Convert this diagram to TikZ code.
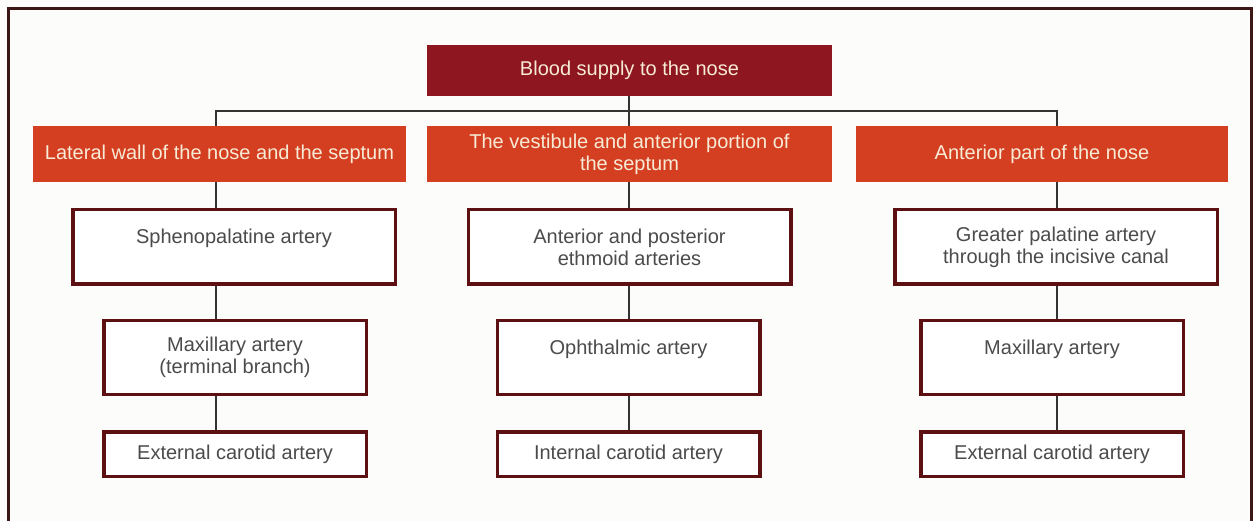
\documentclass[tikz,border=0pt]{standalone}
\usepackage{fontspec}
\setmainfont{Liberation Sans}
\usepackage{color}
\newcommand{\boxrule}{3.5pt}
\newcommand{\linkrule}{2pt}
\definecolor{framebrown}{HTML}{3D1616}
\definecolor{titlered}{HTML}{8E1620}
\definecolor{partred}{HTML}{D43F22}
\definecolor{rimred}{HTML}{5C1012}
\definecolor{inkgray}{HTML}{4B4B4B}
\definecolor{paper}{HTML}{FCFCFA}
\definecolor{cream}{HTML}{F7EBD6}

\begin{document}
\begin{tikzpicture}[x=1pt, y=-1pt,
    every node/.style={font=\fontsize{20}{22}\selectfont, align=center, inner sep=0pt},
    titlebox/.style={fill=titlered, text=cream, minimum width=405pt, minimum height=51pt},
    partbox/.style={fill=partred, text=cream, minimum height=56pt},
    arterybox/.style={draw=rimred, line width=\boxrule, fill=white, text=inkgray},
    oneline/.style={text height=14pt, text depth=20pt},
    link/.style={draw=black!80, line width=\linkrule}]
      % page and frame
        \useasboundingbox (0,0) rectangle (1253,521);
        \fill[paper] (0,0) rectangle (1253,521);
        \draw[framebrown, line width=3pt] (8,521) -- (8,9) -- (1251,9) -- (1251,521);

      % top and the three parts
        \node (blood) at (629.5,70.5) [titlebox] {Blood supply to the nose};
        \node (lateral) at (219.5,154) [partbox, minimum width=373pt] {Lateral wall of the nose and the septum};
        \node (vestibule) at (629.5,154) [partbox, minimum width=405pt] {The vestibule and anterior portion of\\the septum};
        \node (anterior) at (1042,154) [partbox, minimum width=372pt] {Anterior part of the nose};

      % arteries, left column
        \node (spheno) at (234,247) [arterybox, oneline, minimum width=322.5pt, minimum height=74.5pt] {Sphenopalatine artery};
        \node (maxterm) at (235,357.5) [arterybox, minimum width=262.5pt, minimum height=73.5pt] {Maxillary artery\\(terminal branch)};
        \node (extleft) at (235,454) [arterybox, minimum width=262.5pt, minimum height=44.5pt] {External carotid artery};

      % arteries, middle column
        \node (ethmoid) at (629.5,247) [arterybox, minimum width=322.5pt, minimum height=74.5pt] {Anterior and posterior\\ethmoid arteries};
        \node (ophth) at (628.5,357.5) [arterybox, oneline, minimum width=262.5pt, minimum height=73.5pt] {Ophthalmic artery};
        \node (internal) at (628.5,454) [arterybox, minimum width=262.5pt, minimum height=44.5pt] {Internal carotid artery};

      % arteries, right column
        \node (palatine) at (1056,247) [arterybox, minimum width=322.5pt, minimum height=74.5pt] {Greater palatine artery\\through the incisive canal};
        \node (maxright) at (1052,357.5) [arterybox, oneline, minimum width=262.5pt, minimum height=73.5pt] {Maxillary artery};
        \node (extright) at (1052,454) [arterybox, minimum width=262.5pt, minimum height=44.5pt] {External carotid artery};

      % connectors
        \coordinate (colL) at (216,111);
        \coordinate (colM) at (629,111);
        \coordinate (colR) at (1057,111);

        \draw[link] (blood.south -| colM) -- (vestibule.north -| colM);
        \draw[link] (lateral.north -| colL) |- (colR) -- (anterior.north -| colR);

        \draw[link] (lateral.south -| colL) -- (spheno.north -| colL);
        \draw[link] (spheno.south -| colL) -- (maxterm.north -| colL);
        \draw[link] (maxterm.south -| colL) -- (extleft.north -| colL);

        \draw[link] (vestibule.south -| colM) -- (ethmoid.north -| colM);
        \draw[link] (ethmoid.south -| colM) -- (ophth.north -| colM);
        \draw[link] (ophth.south -| colM) -- (internal.north -| colM);

        \draw[link] (anterior.south -| colR) -- (palatine.north -| colR);
        \draw[link] (palatine.south -| colR) -- (maxright.north -| colR);
        \draw[link] (maxright.south -| colR) -- (extright.north -| colR);
    \end{tikzpicture}
\end{document}
